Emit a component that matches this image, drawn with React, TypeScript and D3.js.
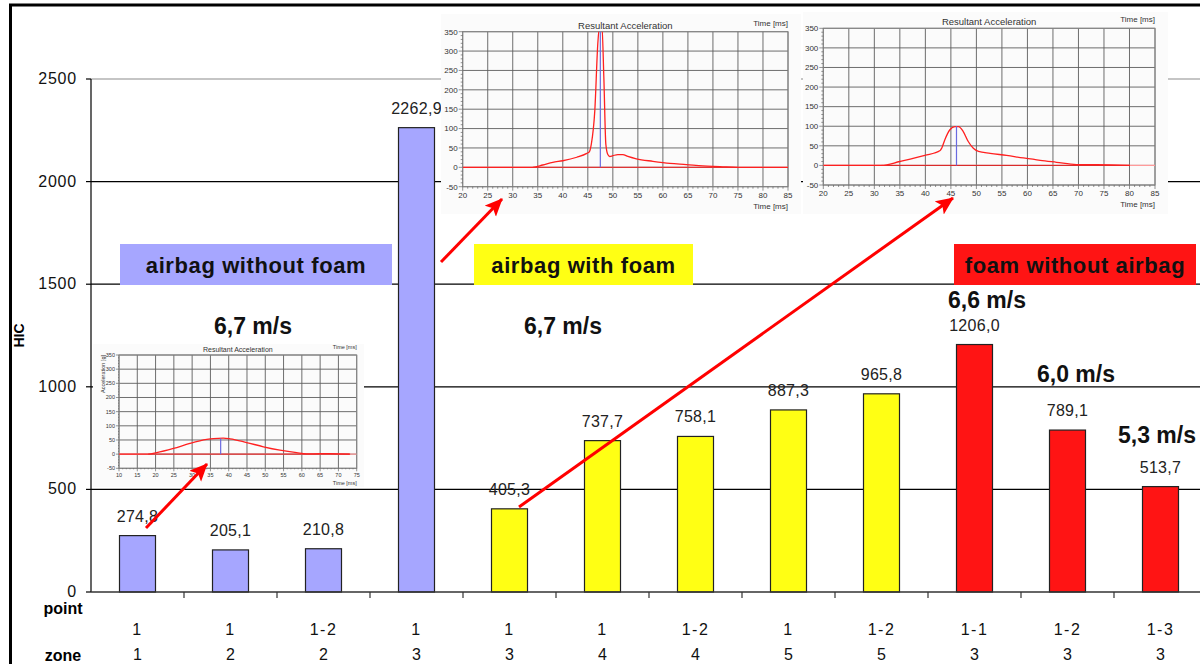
import React from 'react';
import * as d3 from 'd3';

// ---------- main chart data ----------
const points = ['1', '1', '1-2', '1', '1', '1', '1-2', '1', '1-2', '1-1', '1-2', '1-3'];
const zones = ['1', '2', '2', '3', '3', '4', '4', '5', '5', '3', '3', '3'];
const hicValues = [274.8, 205.1, 210.8, 2262.9, 405.3, 737.7, 758.1, 887.3, 965.8, 1206.0, 789.1, 513.7];
const groups = ['noFoam', 'noFoam', 'noFoam', 'noFoam', 'withFoam', 'withFoam', 'withFoam', 'withFoam', 'withFoam', 'noAirbag', 'noAirbag', 'noAirbag'];
const groupColors: Record<string, string> = { noFoam: '#a6a6ff', withFoam: '#ffff14', noAirbag: '#ff1414' };
const yTicks = [0, 500, 1000, 1500, 2000, 2500];

const groupBoxes = [
  { text: 'airbag without foam', color: '#a6a6ff', x0: 120, x1: 392 },
  { text: 'airbag with foam', color: '#ffff14', x0: 474, x1: 693 },
  { text: 'foam without airbag', color: '#ff1414', x0: 954, x1: 1196 },
];
const speedLabels = [
  { text: '6,7 m/s', x: 253, y: 334 },
  { text: '6,7 m/s', x: 563, y: 334 },
  { text: '6,6 m/s', x: 987, y: 308 },
  { text: '6,0 m/s', x: 1076, y: 382 },
  { text: '5,3 m/s', x: 1157, y: 443 },
];

// ---------- inset acceleration curves ----------
const inset1Time = [20, 34, 36, 38, 40, 42.8, 44.8, 45.3, 45.7, 46.4, 47, 47.4, 47.8, 48.2, 48.6, 49, 49.4, 50, 51, 52, 53, 54.7, 58, 61.4, 64.7, 68, 71.4, 74.7, 85];
const inset1Accel = [0, 0, 6, 13, 17, 26, 36, 40, 60, 147, 320, 370, 370, 233, 60, 33, 28, 30, 33, 33, 28, 22, 15.5, 10, 7, 3.5, 2, 0, 0];
const inset2Time = [20, 31.4, 35, 39.9, 42.9, 43.2, 43.8, 44.8, 45.8, 46.5, 47.4, 48.4, 49.4, 50.4, 52.7, 55.9, 59.2, 62.5, 65.7, 69.6, 73.6, 80.1];
const inset2Accel = [0, 0, 10, 25.5, 38, 44, 65, 91, 99, 99, 87, 61, 44, 36, 31, 25.5, 19, 13, 8, 2, 2, 0];
const inset3Time = [10, 18, 20.3, 24.9, 29.4, 34, 35.8, 38.5, 40.4, 44.9, 49.5, 54, 58.6, 61.3, 63.1, 67.7, 73.2];
const inset3Accel = [0, 0, 5, 20, 38, 52, 55, 56.5, 54, 41, 26, 14, 5, 1, 1, 2, 0];

const FONT = "'Liberation Sans', Arial, Helvetica, sans-serif";

type InsetProps = {
  id: string;
  bg: [number, number, number, number];
  plot: [number, number, number, number];
  xDomain: [number, number];
  time: number[];
  accel: number[];
  peakT: number;
  peakA: number;
  endT: number;
  titleSize: number;
  tickSize: number;
  yLabel?: boolean;
};

function Inset({ id, bg, plot, xDomain, time, accel, peakT, peakA, endT, titleSize, tickSize, yLabel }: InsetProps) {
  const [px0, py0, px1, py1] = plot;
  const x = d3.scaleLinear().domain(xDomain).range([px0, px1]);
  const y = d3.scaleLinear().domain([-50, 350]).range([py1, py0]);
  const xTicks = d3.range(xDomain[0], xDomain[1] + 0.01, 5);
  const xMinor = d3.range(xDomain[0], xDomain[1] + 0.01, 1);
  const yTicksI = d3.range(-50, 351, 50);
  const yMinor = d3.range(-50, 351, 10);
  const line = d3
    .line<number>()
    .x((_, i) => x(time[i]))
    .y((d) => y(d))
    .curve(d3.curveMonotoneX);
  const tl = tickSize < 7 ? 2 : 3;
  return (
    <g>
      <rect x={bg[0]} y={bg[1]} width={bg[2] - bg[0]} height={bg[3] - bg[1]} fill="#fbfbfb" />
      <defs>
        <clipPath id={id}>
          <rect x={px0} y={py0} width={px1 - px0} height={py1 - py0} />
        </clipPath>
      </defs>
      {xTicks.map((t) => (
        <line key={'vx' + t} x1={x(t)} x2={x(t)} y1={py0} y2={py1} stroke="#5e5e5e" strokeWidth={0.9} />
      ))}
      {yTicksI.map((t) => (
        <line key={'hy' + t} x1={px0} x2={px1} y1={y(t)} y2={y(t)} stroke="#5e5e5e" strokeWidth={0.9} />
      ))}
      <rect x={px0} y={py0} width={px1 - px0} height={py1 - py0} fill="none" stroke="#888" strokeWidth={1} />
      {xMinor.map((t) => (
        <line key={'mx' + t} x1={x(t)} x2={x(t)} y1={py1} y2={py1 + (t % 5 === 0 ? tl + 1 : tl - 1)} stroke="#666" strokeWidth={0.7} />
      ))}
      {yMinor.map((t) => (
        <line key={'my' + t} x1={px0 - (t % 50 === 0 ? tl + 1 : tl - 1)} x2={px0} y1={y(t)} y2={y(t)} stroke="#666" strokeWidth={0.7} />
      ))}
      {xTicks.map((t) => (
        <text key={'xl' + t} x={x(t)} y={py1 + tickSize + 3} fontSize={tickSize} textAnchor="middle" fill="#333" fontFamily={FONT}>
          {t}
        </text>
      ))}
      {yTicksI.map((t) => (
        <text key={'yl' + t} x={px0 - tl - 2} y={y(t) + tickSize * 0.35} fontSize={tickSize} textAnchor="end" fill="#333" fontFamily={FONT}>
          {t}
        </text>
      ))}
      <text x={(px0 + px1) / 2} y={py0 - 3} fontSize={titleSize} textAnchor="middle" fill="#333" fontFamily={FONT}>
        Resultant Acceleration
      </text>
      <text x={px1} y={py0 - 6} fontSize={tickSize} textAnchor="end" fill="#333" fontFamily={FONT}>
        Time [ms]
      </text>
      <text x={px1} y={py1 + tickSize * 2.4 + 3} fontSize={tickSize} textAnchor="end" fill="#333" fontFamily={FONT}>
        Time [ms]
      </text>
      {yLabel && (
        <text
          transform={`translate(${px0 - tickSize * 2.6},${py0}) rotate(-90)`}
          fontSize={tickSize}
          textAnchor="end"
          fill="#333"
          fontFamily={FONT}
        >
          Acceleration [g]
        </text>
      )}
      <g clipPath={`url(#${id})`}>
        <line x1={px0} x2={px1} y1={y(0)} y2={y(0)} stroke="#ff9a9a" strokeWidth={1.4} />
        <line x1={x(time[1])} x2={x(endT)} y1={y(0)} y2={y(0)} stroke="#c00" strokeWidth={0.8} />
        <path d={line(accel) || ''} fill="none" stroke="#ff2020" strokeWidth={1.3} />
        <line x1={x(peakT)} x2={x(peakT)} y1={y(0)} y2={y(peakA)} stroke="#6a6ae0" strokeWidth={1.2} />
      </g>
    </g>
  );
}

export default function App() {
  const W = 1200;
  const H = 664;
  const left = 91;
  const step = 93;
  const xBand = d3
    .scaleBand<number>()
    .domain(d3.range(hicValues.length))
    .range([left, left + step * hicValues.length])
    .padding(0);
  const y = d3.scaleLinear().domain([0, 2500]).range([592, 79]);
  const barW = 36;
  const right = left + step * hicValues.length;
  const y0 = y(0);
  const fmt = (v: number) => v.toFixed(1).replace('.', ',');

  const arrows = [
    [146, 528, 207, 464],
    [441, 262, 502, 199],
    [519, 507, 953, 198],
  ];

  return (
    <svg
      width={W}
      height={H}
      style={{ position: 'absolute', left: 0, top: 0, display: 'block' }}
      fontFamily={FONT}
    >
      <defs>
        <marker id="arrowHead" markerUnits="userSpaceOnUse" markerWidth={20} markerHeight={18} refX={17} refY={8} orient="auto">
          <path d="M0,0 L18,8 L0,16 L4,8 z" fill="#ff0000" />
        </marker>
      </defs>
      <rect x={0} y={0} width={W} height={H} fill="#fff" />
      <rect x={10.5} y={5} width={W + 20} height={H + 20} fill="none" stroke="#000" strokeWidth={3} />

      {/* gridlines */}
      {yTicks.slice(1).map((t) => (
        <line key={'g' + t} x1={left} x2={right} y1={y(t)} y2={y(t)} stroke={t === 2500 ? '#8c8c8c' : '#000'} strokeWidth={1.2} />
      ))}
      {/* y axis */}
      <line x1={left} x2={left} y1={y(2500)} y2={y0} stroke="#000" strokeWidth={1.2} />
      {yTicks.map((t) => (
        <g key={'yt' + t}>
          <line x1={left - 5} x2={left} y1={y(t)} y2={y(t)} stroke="#000" strokeWidth={1.2} />
          <text x={77} y={y(t) + 5} fontSize={16} textAnchor="end" letterSpacing={0.8} fill="#111">
            {t}
          </text>
        </g>
      ))}
      <text transform={`translate(24,${y(1250)}) rotate(-90)`} fontSize={14} fontWeight="bold" textAnchor="middle" fill="#000">
        HIC
      </text>

      {/* bars */}
      {hicValues.map((v, i) => {
        const cx = (xBand(i) as number) + xBand.bandwidth() / 2;
        return (
          <g key={'b' + i}>
            <rect x={cx - barW / 2} y={y(v)} width={barW} height={y0 - y(v)} fill={groupColors[groups[i]]} stroke="#222" strokeWidth={1.2} />
            <text x={cx} y={y(v) - 14} fontSize={16} textAnchor="middle" fill="#222" letterSpacing={0.3}>
              {fmt(v)}
            </text>
          </g>
        );
      })}

      {/* x axis */}
      <line x1={left} x2={right} y1={y0} y2={y0} stroke="#333" strokeWidth={1.3} />
      {d3.range(1, hicValues.length + 1).map((i) => (
        <line key={'xt' + i} x1={left + i * step} x2={left + i * step} y1={y0} y2={y0 + 6} stroke="#333" strokeWidth={1.2} />
      ))}
      <text x={63} y={614} fontSize={16} fontWeight="bold" textAnchor="middle" fill="#000">
        point
      </text>
      <text x={63} y={661} fontSize={16} fontWeight="bold" textAnchor="middle" fill="#000">
        zone
      </text>
      {points.map((p, i) => {
        const cx = (xBand(i) as number) + xBand.bandwidth() / 2;
        return (
          <g key={'lab' + i}>
            <text x={cx} y={635} fontSize={16} textAnchor="middle" fill="#111" letterSpacing={1.5}>
              {p}
            </text>
            <text x={cx} y={660} fontSize={16} textAnchor="middle" fill="#111">
              {zones[i]}
            </text>
          </g>
        );
      })}

      {/* insets */}
      <Inset
        id="clipA"
        bg={[441, 14, 801, 214]}
        plot={[462.7, 31.7, 788, 186.7]}
        xDomain={[20, 85]}
        time={inset1Time}
        accel={inset1Accel}
        peakT={47.5}
        peakA={360}
        endT={75}
        titleSize={9.5}
        tickSize={8}
      />
      <Inset
        id="clipB"
        bg={[803, 12, 1168, 214]}
        plot={[823.3, 28.3, 1155, 185]}
        xDomain={[20, 85]}
        time={inset2Time}
        accel={inset2Accel}
        peakT={46.1}
        peakA={100}
        endT={80}
        titleSize={9.5}
        tickSize={8}
      />
      <Inset
        id="clipC"
        bg={[93, 344, 364, 487]}
        plot={[119, 355, 356.7, 468.3]}
        xDomain={[10, 75]}
        time={inset3Time}
        accel={inset3Accel}
        peakT={37.8}
        peakA={55}
        endT={73}
        titleSize={7}
        tickSize={5.5}
        yLabel
      />

      {/* group boxes */}
      {groupBoxes.map((b) => (
        <g key={b.text}>
          <rect x={b.x0} y={244} width={b.x1 - b.x0} height={41} fill={b.color} />
          <text x={(b.x0 + b.x1) / 2} y={273} fontSize={22} fontWeight="bold" textAnchor="middle" fill="#111" letterSpacing={0.6}>
            {b.text}
          </text>
        </g>
      ))}
      {speedLabels.map((s, i) => (
        <text key={'s' + i} x={s.x} y={s.y} fontSize={23} fontWeight="bold" textAnchor="middle" fill="#111">
          {s.text}
        </text>
      ))}

      {/* arrows */}
      {arrows.map((a, i) => (
        <line key={'ar' + i} x1={a[0]} y1={a[1]} x2={a[2]} y2={a[3]} stroke="#ff0000" strokeWidth={3} markerEnd="url(#arrowHead)" />
      ))}
    </svg>
  );
}
